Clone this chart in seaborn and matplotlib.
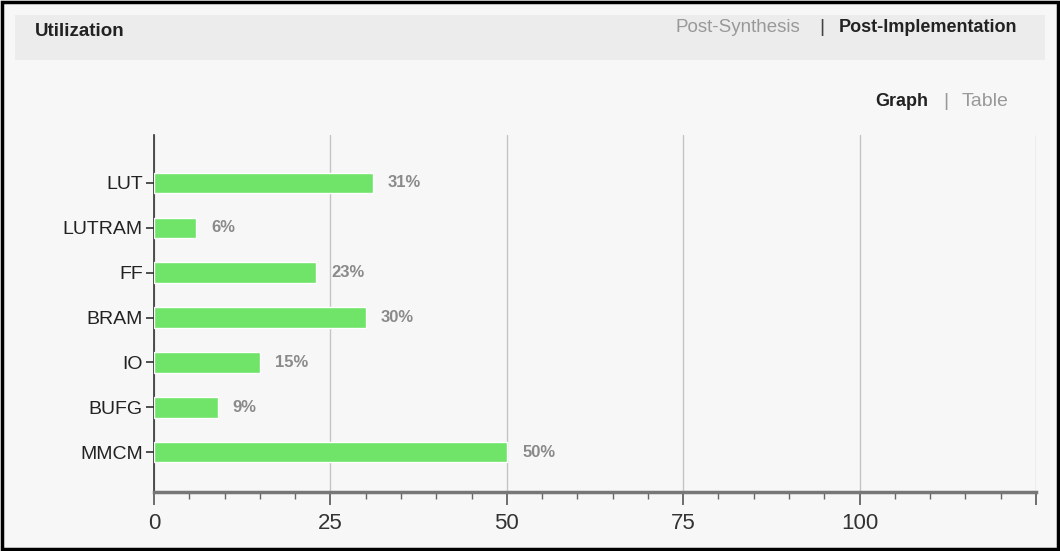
import matplotlib
matplotlib.use("Agg")
import matplotlib.pyplot as plt
import matplotlib.patches as mpatches
from matplotlib.ticker import MultipleLocator
import pandas as pd
import seaborn as sns

# utilization data (post-implementation)
resources = ["LUT", "LUTRAM", "FF", "BRAM", "IO", "BUFG", "MMCM"]
percent = [31, 6, 23, 30, 15, 9, 50]
x_ticks = [0, 25, 50, 75, 100, 125]
x_labels = ["0", "25", "50", "75", "100", ""]

sns.set_style("white")
plt.rcParams['font.family'] = ['Liberation Sans Narrow', 'Liberation Sans', 'DejaVu Sans']

bg = "#f7f7f7"
green = "#6fe468"

fig = plt.figure(figsize=(10.6, 5.51), dpi=100)
fig.patch.set_facecolor(bg)

# header band
fig.patches.append(mpatches.Rectangle((15 / 1060, 1 - 60 / 551), 1030 / 1060, 45 / 551,
                                      transform=fig.transFigure, facecolor="#ececec",
                                      edgecolor="none", zorder=0))
# outer frame
fig.patches.append(mpatches.Rectangle((0.002, 0.004), 0.996, 0.992, transform=fig.transFigure,
                                      facecolor="none", edgecolor="black", linewidth=2.5, zorder=5))

fig.text(35 / 1060, 1 - 31 / 551, "Utilization", fontsize=13.5, fontweight="bold",
         color="#222222", va="center", ha="left")
fig.text(800 / 1060, 1 - 27 / 551, "Post-Synthesis", fontsize=13.5, color="#999999",
         va="center", ha="right")
fig.text(822 / 1060, 1 - 27 / 551, "|", fontsize=14, color="#444444", va="center", ha="center")
fig.text(1017 / 1060, 1 - 27 / 551, "Post-Implementation", fontsize=13, fontweight="bold",
         color="#222222", va="center", ha="right")
fig.text(928 / 1060, 1 - 101 / 551, "Graph", fontsize=13, fontweight="bold",
         color="#222222", va="center", ha="right")
fig.text(946 / 1060, 1 - 101 / 551, "|", fontsize=14, color="#999999", va="center", ha="center")
fig.text(1009 / 1060, 1 - 101 / 551, "Table", fontsize=14, color="#999999",
         va="center", ha="right")

ax = fig.add_axes([154 / 1060, 1 - 492 / 551, 882 / 1060, 357 / 551])
ax.set_facecolor(bg)

df = pd.DataFrame({"resource": resources, "percent": percent})
sns.barplot(data=df, x="percent", y="resource", orient="h", color=green,
            saturation=1, width=0.46, ax=ax, zorder=3)

for c in ax.containers:
    ax.bar_label(c, labels=[f"{v}%" for v in percent], padding=11,
                 fontsize=12, fontweight="bold", color="#8a8a8a")

ax.set_xlim(0, 125)
ax.set_ylim(6.89, -1.07)
ax.set_xticks(x_ticks)
ax.set_xticklabels(x_labels)
ax.xaxis.set_minor_locator(MultipleLocator(5))
ax.grid(axis="x", color="#c4c4c4", linewidth=1, zorder=0)

for s in ["top", "right"]:
    ax.spines[s].set_visible(False)
ax.spines["left"].set_color("#333333")
ax.spines["left"].set_linewidth(1.2)
ax.spines["bottom"].set_color("#777777")
ax.spines["bottom"].set_linewidth(2.5)

ax.tick_params(axis="x", which="both", bottom=True)
ax.tick_params(axis="x", which="major", length=9, width=1.2, color="#555555",
               labelsize=16, labelcolor="#333333", pad=6)
ax.tick_params(axis="x", which="minor", length=5, width=1, color="#666666")
ax.tick_params(axis="y", length=6, width=1.2, color="#333333", labelsize=14,
               labelcolor="#222222", pad=2, left=True)

ax.set_xlabel("")
ax.set_ylabel("")

fig.savefig("out.png", dpi=100, facecolor=fig.get_facecolor())
